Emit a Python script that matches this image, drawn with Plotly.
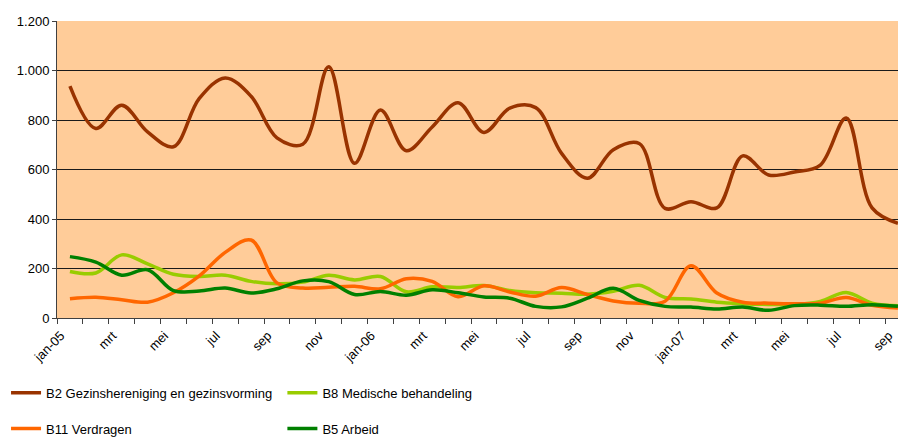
import plotly.graph_objects as go

months = ["jan-05", "feb", "mrt", "apr", "mei", "jun", "jul", "aug", "sep", "okt", "nov", "dec",
          "jan-06", "feb", "mrt", "apr", "mei", "jun", "jul", "aug", "sep", "okt", "nov", "dec",
          "jan-07", "feb", "mrt", "apr", "mei", "jun", "jul", "aug", "sep"]

b2_gezin = [937, 766, 860, 752, 692, 887, 970, 896, 728, 702, 1015, 625,
            840, 676, 772, 870, 750, 848, 850, 665, 565, 680, 705, 443,
            470, 445, 655, 578, 590, 618, 808, 445, 383]
b8_medisch = [188, 182, 255, 219, 177, 168, 173, 148, 138, 145, 173, 154,
              168, 106, 126, 123, 131, 111, 102, 100, 96, 108, 132, 83,
              77, 64, 58, 55, 55, 67, 103, 60, 50]
b11_verdragen = [78, 84, 74, 64, 102, 170, 265, 315, 142, 121, 124, 128,
                 118, 159, 148, 86, 130, 105, 88, 123, 95, 69, 60, 68,
                 211, 101, 64, 60, 58, 60, 83, 51, 40]
b5_arbeid = [248, 226, 173, 195, 111, 109, 121, 101, 118, 150, 147, 95,
             107, 92, 114, 102, 85, 80, 47, 45, 80, 120, 71, 47,
             44, 36, 44, 31, 50, 52, 47, 54, 47]

series = [
    ("B2 Gezinshereniging en gezinsvorming", b2_gezin, "#993300", "legend"),
    ("B8 Medische behandeling", b8_medisch, "#99CC00", "legend2"),
    ("B11 Verdragen", b11_verdragen, "#FF6600", "legend3"),
    ("B5 Arbeid", b5_arbeid, "#008000", "legend4"),
]

x = list(range(len(months)))
fig = go.Figure()
for name, vals, color, lg in series:
    fig.add_trace(go.Scatter(
        x=x, y=vals, name=name, mode="lines",
        line=dict(color=color, width=3.5, shape="spline", smoothing=1),
        legend=lg, hoverinfo="skip"))

font = "Liberation Sans, Arial, sans-serif"
tick_idx = list(range(0, len(months), 2))
label_shift = 0.35  # rotated labels end slightly left of the category centre

def leg(xp, yp):
    return dict(x=xp, y=yp, xanchor="left", yanchor="middle",
                bgcolor="rgba(0,0,0,0)", font=dict(family=font, size=13, color="black"),
                itemwidth=30)

fig.update_layout(
    width=898, height=437,
    margin=dict(l=57, r=0, t=21, b=119, autoexpand=False),
    paper_bgcolor="white", plot_bgcolor="#FFCC99",
    separators=",.",
    font=dict(family=font, size=13, color="black"),
    showlegend=True,
    legend=leg(-0.0606, -0.252),
    legend2=leg(0.268, -0.252),
    legend3=leg(-0.0606, -0.372),
    legend4=leg(0.268, -0.372),
    xaxis=dict(
        range=[-0.5, 32.002], automargin=False,
        tickmode="array", tickvals=[i - label_shift for i in tick_idx],
        ticktext=[months[i] for i in tick_idx],
        tickangle=-45, ticks="", showgrid=False, zeroline=False,
        showline=True, linecolor="#404040", linewidth=1,
        ticklabelstandoff=4, ticklabeloverflow="allow",
        tickfont=dict(family=font, size=13, color="black"),
        minor=dict(tick0=-0.5, dtick=1, ticks="outside", ticklen=5,
                   tickcolor="#404040", showgrid=False),
    ),
    yaxis=dict(
        range=[0, 1200], dtick=200, tick0=0, tickformat=",d", automargin=False,
        showgrid=True, gridcolor="#1a1a1a", gridwidth=1, zeroline=False,
        showline=True, linecolor="#404040", linewidth=1,
        ticks="outside", ticklen=4, tickcolor="#404040",
        tickfont=dict(family=font, size=13, color="black"),
    ),
)

fig.write_html("out.html", config={"displayModeBar": False},
               post_script="document.body.style.margin='0px';document.body.style.overflow='hidden';")
